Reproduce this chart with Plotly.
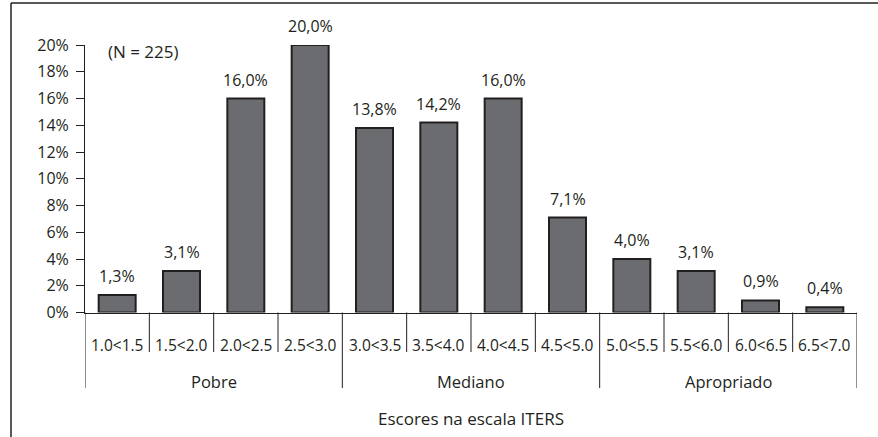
import plotly.graph_objects as go

categories = ["1.0<1.5", "1.5<2.0", "2.0<2.5", "2.5<3.0", "3.0<3.5", "3.5<4.0",
              "4.0<4.5", "4.5<5.0", "5.0<5.5", "5.5<6.0", "6.0<6.5", "6.5<7.0"]
values = [1.3, 3.1, 16.0, 20.0, 13.8, 14.2, 16.0, 7.1, 4.0, 3.1, 0.9, 0.4]
groups = ["Pobre", "Mediano", "Apropriado"]
group_size = 4
y_ticks = [0, 2, 4, 6, 8, 10, 12, 14, 16, 18, 20]
y_tick_labels = [f"{t}%" for t in y_ticks]
value_labels = [f"{v:.1f}".replace(".", ",") + "%" for v in values]

W, H = 878, 437
INK = "#231f20"
BAR = "#6b6c70"
FONT = "Open Sans"

x_left, x_right = 85 / W, 857 / W
y_zero = (H - 312.5) / H
y_top = (H - 45) / H
y_cat = (H - 352) / H
y_grp = (H - 388) / H

xs = list(range(len(categories)))

fig = go.Figure()
fig.add_trace(go.Bar(
    x=xs, y=values, width=0.575,
    marker=dict(color=BAR, line=dict(color=INK, width=2)),
    hoverinfo="skip",
))

annotations = []
for x, v, lab in zip(xs, values, value_labels):
    annotations.append(dict(x=x, y=v, xref="x", yref="y", text=lab, showarrow=False,
                            yanchor="bottom", yshift=6, font=dict(size=16, color=INK, family=FONT)))
for x, c in zip(xs, categories):
    annotations.append(dict(x=x, y=(H - 345) / H, xref="x", yref="paper", text=c, showarrow=False,
                            yanchor="middle", font=dict(size=15.5, color=INK, family=FONT)))
for gi, g in enumerate(groups):
    annotations.append(dict(x=gi * group_size + (group_size - 1) / 2, y=(H - 381) / H,
                            xref="x", yref="paper", text=g, showarrow=False,
                            yanchor="middle", font=dict(size=16.5, color=INK, family=FONT)))
annotations.append(dict(x=(len(categories) - 1) / 2, y=(H - 418) / H, xref="x", yref="paper",
                        text="Escores na escala ITERS", showarrow=False, yanchor="middle",
                        font=dict(size=17, color=INK, family=FONT)))
annotations.append(dict(x=106 / W, y=(H - 52) / H, xref="paper", yref="paper", text="(N = 225)",
                        showarrow=False, xanchor="left", yanchor="middle",
                        font=dict(size=17, color=INK, family=FONT)))

shapes = []
# outer frame (left and top edges visible)
shapes.append(dict(type="line", xref="paper", yref="paper", x0=11 / W, x1=11 / W, y0=0, y1=(H - 3) / H,
                   line=dict(color=INK, width=1.5)))
shapes.append(dict(type="line", xref="paper", yref="paper", x0=11 / W, x1=1, y0=(H - 3) / H, y1=(H - 3) / H,
                   line=dict(color=INK, width=1.5)))
# dividers
for k in range(len(categories) + 1):
    is_group = k % group_size == 0
    shapes.append(dict(type="line", xref="x", yref="paper", x0=k - 0.5, x1=k - 0.5,
                       y0=y_zero, y1=y_grp if is_group else y_cat,
                       line=dict(color=INK, width=1)))

fig.update_layout(
    width=W, height=H, autosize=False,
    margin=dict(l=0, r=0, t=0, b=0, pad=0),
    paper_bgcolor="white", plot_bgcolor="white",
    showlegend=False,
    annotations=annotations, shapes=shapes,
    font=dict(family=FONT, size=15, color=INK),
    xaxis=dict(domain=[x_left, x_right], range=[-0.5, len(categories) - 0.5], automargin=False,
               showticklabels=False, ticks="", showgrid=False, zeroline=False,
               showline=True, linecolor=INK, linewidth=1.3),
    yaxis=dict(domain=[y_zero, y_top], range=[0, 20], tickvals=y_ticks, ticktext=y_tick_labels,
               automargin=False, ticklabelstandoff=4,
               ticks="outside", ticklen=8, tickcolor=INK, tickwidth=1,
               showgrid=False, zeroline=False, showline=True, linecolor=INK, linewidth=1,
               tickfont=dict(size=16, color=INK, family=FONT)),
)

fig.write_html("out.html", config={"displayModeBar": False},
               post_script="document.body.style.margin='0';")
